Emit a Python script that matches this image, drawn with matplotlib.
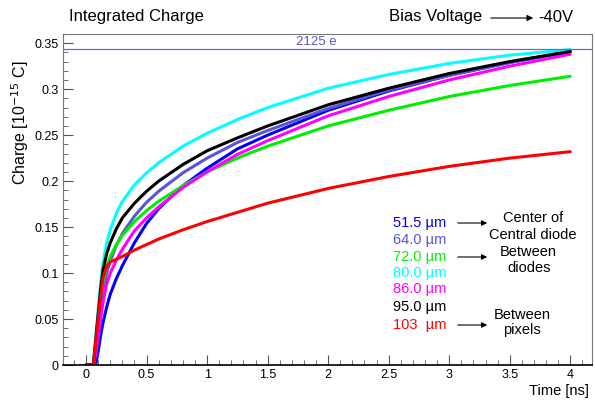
import numpy as np
import matplotlib
matplotlib.use('Agg')
import matplotlib.pyplot as plt
from matplotlib.ticker import MultipleLocator

# time samples [ns]
t = [0, 0.06, 0.08, 0.1, 0.12, 0.14, 0.17, 0.2, 0.25, 0.3, 0.4, 0.5, 0.6,
     0.8, 1.0, 1.25, 1.5, 2.0, 2.5, 3.0, 3.5, 4.0]

# integrated charge [1e-15 C] per position
q_515 = [0, 0, 0.0, 0.015, 0.032, 0.046, 0.063, 0.077, 0.094, 0.108, 0.133, 0.154,
         0.170, 0.195, 0.214, 0.235, 0.250, 0.277, 0.298, 0.315, 0.329, 0.341]
q_640 = [0, 0, 0.02, 0.04, 0.062, 0.08, 0.1, 0.113, 0.13, 0.143, 0.162, 0.177,
         0.189, 0.209, 0.225, 0.242, 0.255, 0.279, 0.299, 0.315, 0.329, 0.341]
q_720 = [0, 0, 0.025, 0.05, 0.072, 0.09, 0.107, 0.118, 0.131, 0.141, 0.156, 0.168,
         0.178, 0.195, 0.210, 0.225, 0.238, 0.260, 0.277, 0.292, 0.304, 0.314]
q_800 = [0, 0, 0.03, 0.06, 0.088, 0.111, 0.133, 0.147, 0.165, 0.178, 0.196, 0.209,
         0.220, 0.238, 0.252, 0.267, 0.280, 0.301, 0.316, 0.328, 0.337, 0.343]
q_860 = [0, 0, 0.012, 0.03, 0.05, 0.068, 0.088, 0.1, 0.114, 0.126, 0.146, 0.160,
         0.172, 0.193, 0.210, 0.229, 0.244, 0.271, 0.292, 0.310, 0.325, 0.338]
q_950 = [0, 0, 0.028, 0.055, 0.082, 0.103, 0.121, 0.133, 0.148, 0.160, 0.176, 0.189,
         0.200, 0.218, 0.233, 0.247, 0.260, 0.283, 0.301, 0.317, 0.330, 0.341]
q_103 = [0, 0, 0.025, 0.05, 0.075, 0.095, 0.107, 0.112, 0.115, 0.118, 0.125, 0.131,
         0.137, 0.147, 0.156, 0.166, 0.176, 0.192, 0.205, 0.216, 0.225, 0.232]

labels = ['51.5 \u00b5m', '64.0 \u00b5m', '72.0 \u00b5m', '80.0 \u00b5m',
          '86.0 \u00b5m', '95.0 \u00b5m', '103  \u00b5m']
colors = ['#0000ff', '#5954d8', '#00ee00', '#00ffff', '#ff00ff', '#000000', '#ff0000']
series = [q_515, q_640, q_720, q_800, q_860, q_950, q_103]

q_ref = 0.344   # 2125 e line

plt.rcParams['font.family'] = ['Liberation Sans', 'DejaVu Sans']

fig = plt.figure(figsize=(5.95, 4.0), dpi=100)
ax = fig.add_axes([0.106, 0.0875, 0.889, 0.8275])

for q, c in zip(series, colors):
    ax.plot(t, q, color=c, lw=2.2, solid_joinstyle='round', solid_capstyle='round')

ax.axhline(q_ref, color='#6666dd', lw=0.9)
ax.text(1.9, q_ref + 0.001, '2125 e', color='#5555cc', fontsize=9.5,
        ha='center', va='bottom')

ax.set_xlim(-0.19, 4.18)
ax.set_ylim(0, 0.36)
ax.xaxis.set_minor_locator(MultipleLocator(0.1))
ax.yaxis.set_minor_locator(MultipleLocator(0.01))
ax.set_xticks(np.arange(0, 4.01, 0.5))
ax.set_xticklabels(['0', '0.5', '1', '1.5', '2', '2.5', '3', '3.5', '4'])
ax.set_yticks(np.arange(0, 0.351, 0.05))
ax.set_yticklabels(['0', '0.05', '0.1', '0.15', '0.2', '0.25', '0.3', '0.35'])
ax.tick_params(which='both', direction='in', top=False, right=False,
               labelsize=9, color='#555555')
ax.tick_params(which='major', length=7, pad=3)
ax.tick_params(which='minor', length=3.5)
for s in ['top', 'right', 'left']:
    ax.spines[s].set_color('#777777')
    ax.spines[s].set_linewidth(0.8)
ax.spines['bottom'].set_linewidth(1.2)

fig.text(20 / 595, 1 - 60 / 400, 'Charge [10$^{-15}$ C]', rotation=90,
         ha='center', va='top', fontsize=11.5)
fig.text(589 / 595, 1 - 391 / 400, 'Time [ns]', ha='right', va='center', fontsize=10.5)
fig.text(69 / 595, 1 - 17 / 400, 'Integrated Charge', ha='left', va='center', fontsize=12)
fig.text(389 / 595, 1 - 17 / 400, 'Bias Voltage', ha='left', va='center', fontsize=12)
fig.text(573 / 595, 1 - 17 / 400, '-40V', ha='right', va='center', fontsize=12)
fig.patches.append(matplotlib.patches.FancyArrowPatch(
    (488 / 595, 1 - 18 / 400), (536 / 595, 1 - 18 / 400), transform=fig.transFigure,
    arrowstyle='-|>', mutation_scale=9, lw=0.8, color='black'))

# legend-like labels
lab_y = [223, 240, 257, 273, 289, 307, 325]
for lab, c, y in zip(labels, colors, lab_y):
    fig.text(393 / 595, 1 - y / 400, lab, color=c, ha='left', va='center', fontsize=10.5)

for y in [223, 257, 325]:
    fig.patches.append(matplotlib.patches.FancyArrowPatch(
        (455 / 595, 1 - y / 400), (490 / 595, 1 - y / 400), transform=fig.transFigure,
        arrowstyle='-|>', mutation_scale=8, lw=0.8, color='black'))

notes = [(503, 218, 'Center of'), (489, 235, 'Central diode'), (500, 252, 'Between'),
         (507, 268, 'diodes'), (494, 315, 'Between'), (503, 330, 'pixels')]
for x, y, s in notes:
    fig.text(x / 595, 1 - y / 400, s, ha='left', va='center', fontsize=10.5)

fig.savefig('out.png', dpi=100)
